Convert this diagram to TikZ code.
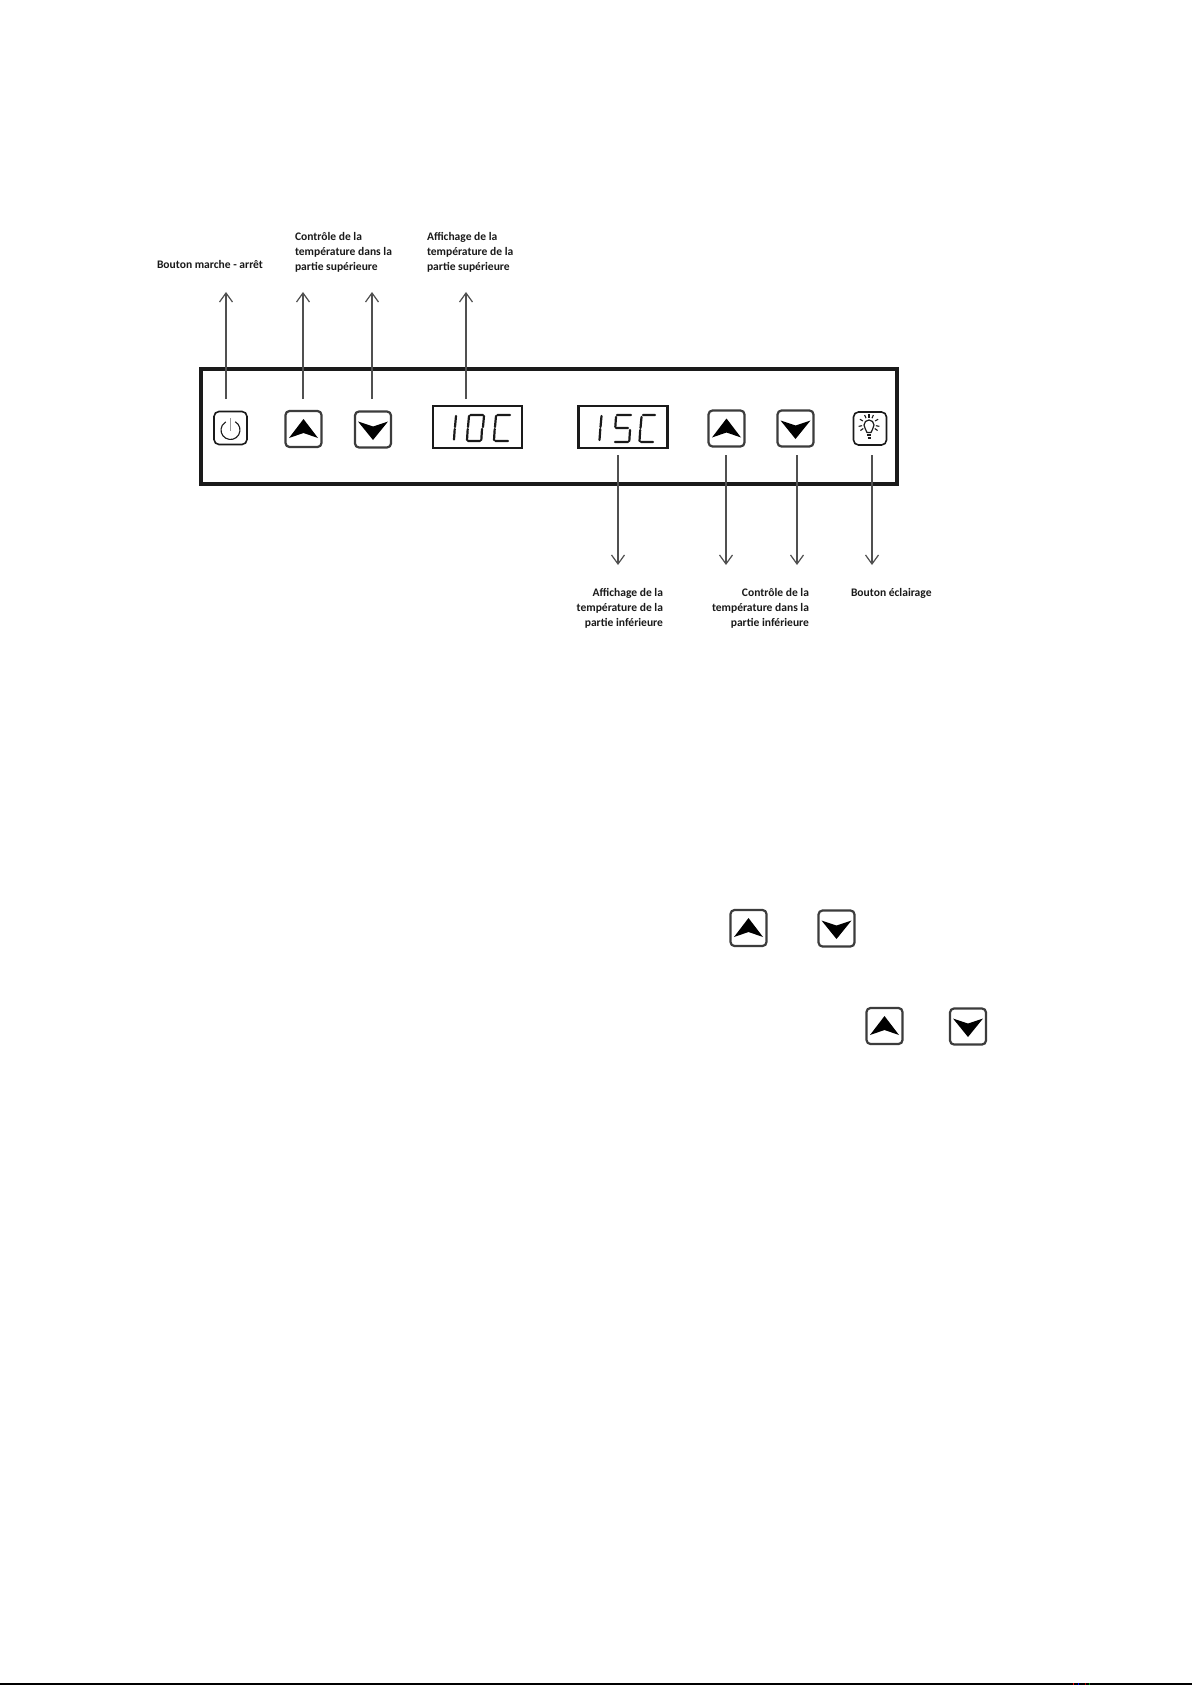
\documentclass[tikz,border=0pt]{standalone}
\usepackage{fontspec}
\setmainfont{Carlito}
\usetikzlibrary{arrows.meta}
\definecolor{ink}{HTML}{1A1A1A}
\definecolor{arrowgrey}{HTML}{505050}
\definecolor{btnedge}{HTML}{3C3C3C}
\tikzset{
  x=1pt,y=-1pt,
  panel/.style={draw=ink,line width=3.3pt,fill=none,outer sep=0pt},
  keybox/.style={draw=btnedge,line width=2.2pt,rounded corners=4pt,minimum width=#1,minimum height=#1,inner sep=0pt,outer sep=0pt},
  iconbox/.style={draw=ink,line width=1.6pt,rounded corners=5pt,minimum width=#1,minimum height=#1,inner sep=0pt,outer sep=0pt},
  display/.style={draw=ink,line width=2.2pt,minimum width=89pt,minimum height=42pt,inner sep=0pt,outer sep=0pt},
  seg/.style={draw=ink,line width=2.2pt,line cap=round},
  callout/.style={draw=arrowgrey,line width=1.3pt,-{Straight Barb[length=9pt,width=13pt,line width=1.2pt]}},
  lbl/.style={inner sep=0pt,outer sep=0pt,text=ink,font=\fontsize{11.55pt}{15pt}\selectfont\bfseries},
  lblL/.style={lbl,anchor=west,align=left},
  lblR/.style={lbl,anchor=east,align=right}
}
% up key: name, cx, cy
\newcommand{\keyup}[3]{%
  \node[keybox=36pt] (#1) at (#2,#3) {};
  \fill[black] (#2,#3) ++(0,-10) -- ++(14.5,19) -- ++(-14.5,-5) -- ++(-14.5,5) -- cycle;}
\newcommand{\keydown}[3]{%
  \node[keybox=36pt] (#1) at (#2,#3) {};
  \fill[black] (#2,#3) ++(0,10.5) -- ++(15,-18.5) -- ++(-15,5) -- ++(-15,-5) -- cycle;}
\begin{document}
\begin{tikzpicture}
\useasboundingbox (0,0) rectangle (1192,1685);
\fill[white] (0,0) rectangle (1192,1685);
\draw[black,line width=2pt] (0,1684) -- (1192,1684);
\draw[red,line width=2pt] (1073,1684) -- (1074,1684);
\draw[blue,line width=2pt] (1078,1684) -- (1079,1684);
\draw[red!70!black,line width=2pt] (1085,1684) -- (1086,1684);
\draw[green!60!black,line width=2pt] (1089,1684) -- (1090,1684);
\node[panel,minimum width=696pt,minimum height=115pt,inner sep=0pt,anchor=north west] (panel) at (201,369) {};

% power
\node[iconbox=33pt] (power) at (230.5,428) {};
\draw[ink,line width=1.1pt] (230.5,430) ++(-60:9.5) arc[start angle=-60,end angle=240,radius=9.5];
\draw[arrowgrey!60,line width=1.1pt] (230.5,418) -- (230.5,431);

% keys
\keyup{upA}{303.5}{429}
\keydown{downA}{373}{429.5}
\keyup{upB}{726.5}{428.5}
\keydown{downB}{795.5}{428.5}
\keyup{upC}{748.5}{928}
\keydown{downC}{836.5}{928.5}
\keyup{upD}{884.5}{1026}
\keydown{downD}{968}{1026.5}

% displays
\node[display] (dispA) at (477.5,427) {};
\node[display] (dispB) at (623,427) {};
% 10C
\draw[seg] (456,416) -- (455,427) (454.7,429) -- (454,439.5);
\draw[seg] (469,416) -- (468,427) (467.7,429) -- (467,440) (468,441) -- (480,441) (482,429) -- (481.3,440) (484,416) -- (483,427) (470.5,415) -- (483,415);
\draw[seg] (496,416) -- (495,427) (494.7,429) -- (494,440) (495.5,441) -- (508,441) (497.5,415) -- (510,415);
% 15C
\draw[seg] (601.5,416) -- (600.5,427) (600.3,429) -- (599.5,440);
\draw[seg] (617,415) -- (631,415) (616,417) -- (615.3,427) (616,428) -- (628,428) (630,430) -- (629.3,441) (615,442) -- (628,442);
\draw[seg] (641.5,417) -- (640.5,428) (640.2,430) -- (639.5,441) (641,442) -- (653,442) (643,415) -- (655,415);

% bulb
\node[iconbox=33pt] (bulb) at (870,428.5) {};
\draw[ink,line width=1.2pt] (867,432.5) .. controls (866.5,429.5) and (864,428.5) .. (864,425) arc[start angle=180,end angle=360,radius=5] .. controls (874,428.5) and (871.5,429.5) .. (871,432.5) -- cycle;
\draw[ink,line width=1.8pt] (866.8,435) -- (871.2,435);
\draw[ink,line width=1.5pt] (867.5,438) -- (870.5,438);
\foreach \a in {-10,30,65,90,115,150,190,-35,215}{
  \draw[ink,line width=1.1pt] (869,424.5) ++({cos(\a)*7},{-sin(\a)*7}) -- ++({cos(\a)*3.5},{-sin(\a)*3.5});
}

% labels
\node[lblL] (tpower) at (157,264) {Bouton marche - arrêt};
\node[lblL] (tctrlA) at (295,252.5) {Contrôle de la\\température dans la\\partie supérieure};
\node[lblL] (tdispA) at (427,252.5) {Affichage de la\\température de la\\partie supérieure};
\node[lblR] (tdispB) at (663,608) {Affichage de la\\température de la\\partie inférieure};
\node[lblR] (tctrlB) at (809,608) {Contrôle de la\\température dans la\\partie inférieure};
\node[lblL] (tbulb) at (851,593) {Bouton éclairage};

% callout ends
\coordinate (eA) at (226,292);
\coordinate (eB) at (303,292);
\coordinate (eC) at (372,292);
\coordinate (eD) at (466,292);
\coordinate (eE) at (618,565);
\coordinate (eF) at (726,565);
\coordinate (eG) at (797,565);
\coordinate (eH) at (872,565);
\draw[callout] (eA |- 0,399) -- (eA);
\draw[callout] (eB |- 0,399) -- (eB);
\draw[callout] (eC |- 0,399) -- (eC);
\draw[callout] (eD |- 0,399) -- (eD);
\draw[callout] (eE |- 0,455) -- (eE);
\draw[callout] (eF |- 0,455) -- (eF);
\draw[callout] (eG |- 0,455) -- (eG);
\draw[callout] (eH |- 0,455) -- (eH);
\end{tikzpicture}
\end{document}
